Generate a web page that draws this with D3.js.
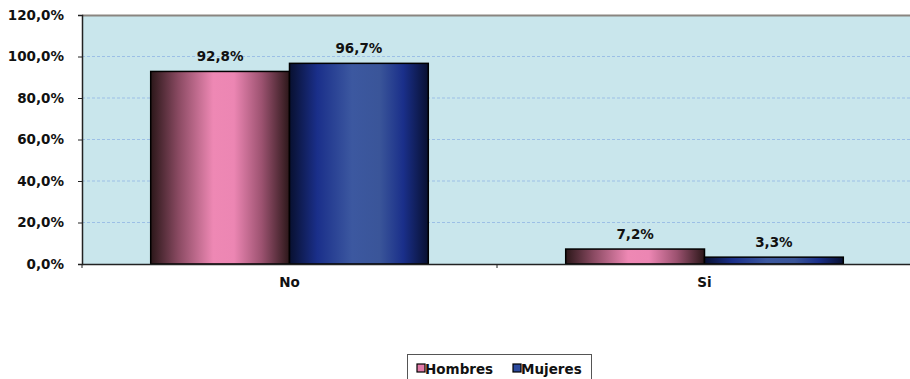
<!DOCTYPE html>
<html>
<head>
<meta charset="utf-8">
<script src="https://cdn.jsdelivr.net/npm/d3@7"></script>
<style>
  body { margin: 0; background: #fff; }
  text { font-family: "DejaVu Sans", Verdana, sans-serif; font-weight: bold; fill: #111; }
</style>
</head>
<body>
<div id="chart"></div>
<script>
const categories = ["No", "Si"];
const seriesNames = ["Hombres", "Mujeres"];
const hombres = [92.8, 7.2];
const mujeres = [96.7, 3.3];
const yTicks = [0, 20, 40, 60, 80, 100, 120];

const W = 910, H = 379;
const margin = { top: 15, right: -2, bottom: 115, left: 82 };
const width = W - margin.left - margin.right;
const height = H - margin.top - margin.bottom;
const fontFam = "DejaVu Sans, Verdana, sans-serif";
const fs = "13.5px";

const svg = d3.select("#chart").append("svg")
    .attr("width", W).attr("height", H);

// gradients for the shaded bars
const defs = svg.append("defs");
const gradStops = {
    Hombres: [[0, "#2b1719"], [0.2, "#8a4a62"], [0.45, "#ee88b4"], [0.6, "#ec86b3"], [0.8, "#9c5270"], [1, "#2b1719"]],
    Mujeres: [[0, "#081030"], [0.2, "#1a2f8a"], [0.45, "#3c58a0"], [0.65, "#3a5599"], [0.82, "#1a2f8a"], [1, "#081030"]]
};
const swatch = { Hombres: "#e27aa8", Mujeres: "#2c4a9e" };
seriesNames.forEach(name => {
    const g = defs.append("linearGradient").attr("id", "grad-" + name)
        .attr("x1", "0%").attr("x2", "100%").attr("y1", "0%").attr("y2", "0%");
    gradStops[name].forEach(s => g.append("stop").attr("offset", s[0]).attr("stop-color", s[1]));
});

const g = svg.append("g").attr("transform", `translate(${margin.left},${margin.top})`);

const x0 = d3.scaleBand().domain(categories).range([0, width]).paddingInner(0).paddingOuter(0);
const x1 = d3.scaleBand().domain(seriesNames).range([0, x0.bandwidth()]).paddingInner(0).paddingOuter(0.495);
const y = d3.scaleLinear().domain([0, 120]).range([height, 0]);

// plot area
g.append("rect").attr("width", width).attr("height", height).attr("fill", "#c9e6ec");

// gridlines
g.selectAll(".grid").data(yTicks.filter(t => t > 0 && t < 120)).enter()
    .append("line")
    .attr("x1", 0).attr("x2", width)
    .attr("y1", d => y(d)).attr("y2", d => y(d))
    .attr("stroke", "#9cbfe6").attr("stroke-width", 1).attr("stroke-dasharray", "3,2");

// top border
g.append("line").attr("x1", 0).attr("x2", width).attr("y1", 0.5).attr("y2", 0.5)
    .attr("stroke", "#8a8580").attr("stroke-width", 2);

// bars
const data = [];
categories.forEach((c, i) => {
    data.push({ cat: c, series: "Hombres", value: hombres[i] });
    data.push({ cat: c, series: "Mujeres", value: mujeres[i] });
});

g.selectAll(".bar").data(data).enter().append("rect")
    .attr("x", d => x0(d.cat) + x1(d.series))
    .attr("y", d => y(d.value))
    .attr("width", x1.bandwidth())
    .attr("height", d => y(0) - y(d.value))
    .attr("fill", d => `url(#grad-${d.series})`)
    .attr("stroke", "#000").attr("stroke-width", 1.5);

// value labels
g.selectAll(".lbl").data(data).enter().append("text")
    .attr("x", d => x0(d.cat) + x1(d.series) + x1.bandwidth() / 2)
    .attr("y", d => y(d.value) - 10)
    .attr("text-anchor", "middle")
    .style("font-size", fs)
    .text(d => d.value.toFixed(1).replace(".", ",") + "%");

// y axis
const yAxis = d3.axisLeft(y).tickValues(yTicks).tickSize(4).tickPadding(14)
    .tickFormat(d => d.toFixed(1).replace(".", ",") + "%");
const ya = g.append("g").call(yAxis);
ya.select(".domain").attr("stroke", "#222").attr("stroke-width", 1.5);
ya.selectAll(".tick line").attr("stroke", "#222");
ya.selectAll("text").style("font-size", fs).style("font-family", fontFam).style("font-weight", "bold").attr("fill", "#111");

// x axis
const xAxis = d3.axisBottom(x0).tickSize(0).tickPadding(13);
const xa = g.append("g").attr("transform", `translate(0,${height})`).call(xAxis);
xa.select(".domain").attr("stroke", "#222").attr("stroke-width", 1.5);
xa.selectAll("text").style("font-size", fs).style("font-family", fontFam).style("font-weight", "bold").attr("fill", "#111");
// category separator ticks
g.selectAll(".sep").data(categories).enter()
    .append("line")
    .attr("x1", d => x0(d)).attr("x2", d => x0(d))
    .attr("y1", height).attr("y2", height + 4)
    .attr("stroke", "#222");

// legend
const legend = svg.append("g").attr("transform", "translate(407,354)");
legend.append("rect").attr("x", 0.5).attr("y", 0.5).attr("width", 184).attr("height", 30)
    .attr("fill", "#fff").attr("stroke", "#555");
const lx = [10, 106];
seriesNames.forEach((name, i) => {
    legend.append("rect").attr("x", lx[i]).attr("y", 10).attr("width", 8).attr("height", 8)
        .attr("fill", swatch[name]).attr("stroke", "#000").attr("stroke-width", 1.2);
    legend.append("text").attr("x", lx[i] + 8).attr("y", 19.5)
        .style("font-size", fs).text(name);
});
</script>
</body>
</html>
